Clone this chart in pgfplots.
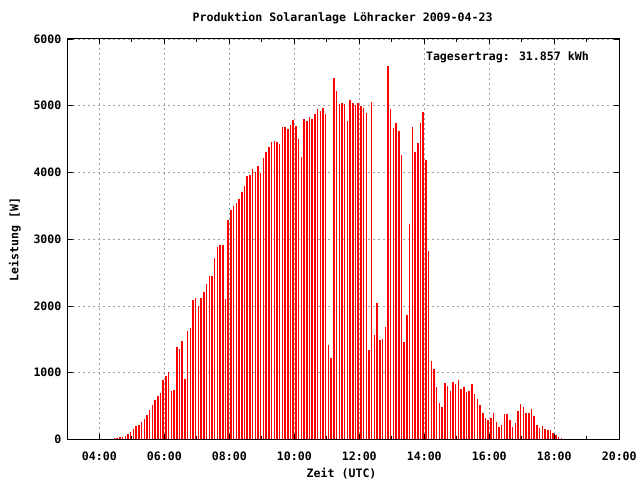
\documentclass[border=0pt]{standalone}
\usepackage{fontspec}
\setmainfont{DejaVu Sans Mono}
\usepackage{pgfplots}
\pgfplotsset{compat=1.18}
\definecolor{gridgray}{RGB}{160,160,160}
\pgfplotstableread{
t p
268 15
273 15
278 30
283 30
288 45
293 75
298 105
303 150
308 195
313 210
318 255
323 300
328 360
333 435
338 510
343 585
348 645
353 690
358 885
363 945
368 1005
373 720
378 735
383 1380
388 1350
393 1480
398 900
403 1620
408 1665
413 2085
418 2126
423 2000
428 2126
433 2216
438 2335
443 2455
448 2455
453 2725
458 2889
463 2919
468 2919
473 2111
478 3293
483 3443
488 3503
493 3548
498 3608
503 3713
508 3802
513 3952
518 3967
523 4057
528 4012
533 4102
538 3997
543 4222
548 4311
553 4380
558 4450
563 4470
568 4450
573 4430
578 4680
583 4680
588 4650
593 4716
598 4790
603 4700
608 4506
613 4237
618 4805
623 4775
628 4835
633 4805
638 4880
643 4955
648 4925
653 4970
658 4880
663 1422
668 1213
673 5419
678 5224
683 5030
688 5045
693 5030
698 4775
703 5090
708 5045
713 5015
718 5045
723 5000
728 4970
733 4895
738 1347
743 5060
748 1572
753 2051
758 1497
763 1512
768 1692
773 5599
778 4955
783 4671
788 4745
793 4626
798 4266
803 1467
808 1871
813 3234
818 4686
823 4311
828 4446
833 4745
838 4910
843 4192
848 2829
853 1168
858 1063
863 793
868 539
873 479
878 853
883 808
888 719
893 868
898 838
903 898
908 763
913 793
918 704
923 719
928 838
933 674
938 599
943 509
948 389
953 329
958 299
963 329
968 389
973 269
978 180
983 210
988 374
993 374
998 299
1003 180
1008 240
1013 419
1018 524
1023 479
1028 389
1033 389
1038 449
1043 359
1048 210
1053 165
1058 195
1063 150
1068 135
1073 135
1078 90
1083 60
1088 30
1093 15
}\power
\begin{document}
\begin{tikzpicture}
\begin{axis}[
  at={(0,0)}, anchor=south west,
  scale only axis, width=552bp, height=401bp,
  xmin=182, xmax=1200, ymin=0, ymax=6000,
  xtick={240,360,480,600,720,840,960,1080,1200},
  xticklabels={04:00,06:00,08:00,10:00,12:00,14:00,16:00,18:00,20:00},
  minor xtick={300,420,540,660,780,900,1020,1140},
  ytick={0,1000,2000,3000,4000,5000,6000},
  grid=major,
  major grid style={dash pattern=on 2bp off 3bp, color=gridgray, line width=0.8bp},
  tick align=inside,
  major tick length=5bp, minor tick length=3bp,
  tick style={black, line width=0.8bp},
  axis line style={black, line width=1bp},
  font=\bfseries\fontsize{11.6bp}{14bp}\selectfont,
  /pgf/number format/assume math mode=true,
  /pgf/number format/1000 sep={},
  xticklabel shift=9bp,
  yticklabel shift=3bp,
]
\addplot[ycomb, color=red, line width=1.5bp, mark=none] table[x=t, y=p] {\power};
\node[anchor=west, xshift=-3bp, yshift=-2bp, font=\bfseries\fontsize{11.6bp}{14bp}\selectfont] at (rel axis cs:0.6486,0.958) {Tagesertrag: 31.857 kWh};
\end{axis}
\node[font=\bfseries\fontsize{11.6bp}{14bp}\selectfont] at (275bp,422bp) {Produktion Solaranlage Löhracker 2009-04-23};
\node[font=\bfseries\fontsize{11.6bp}{14bp}\selectfont] at (274bp,-34bp) {Zeit (UTC)};
\node[rotate=90, font=\bfseries\fontsize{11.6bp}{14bp}\selectfont] at (-53bp,200bp) {Leistung [W]};
\path (-68bp,-40bp) rectangle (572bp,440bp);
\end{tikzpicture}
\end{document}
